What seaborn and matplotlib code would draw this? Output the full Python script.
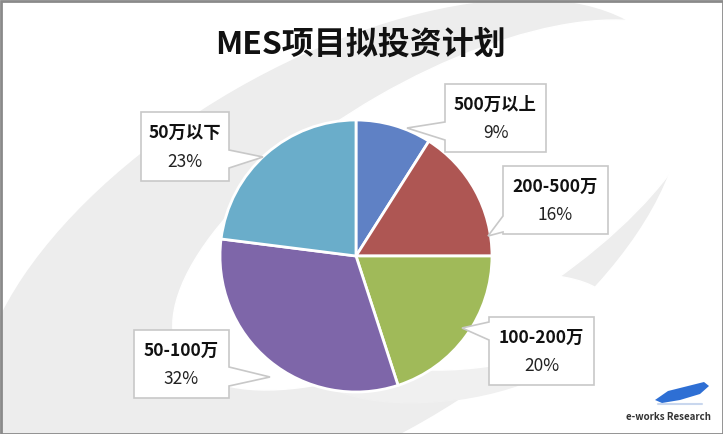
import numpy as np
import seaborn as sns
import matplotlib.pyplot as plt
from matplotlib.patches import Polygon, Ellipse, Rectangle

# chart data
categories = ['500万以上', '200-500万', '100-200万', '50-100万', '50万以下']
shares = [9, 16, 20, 32, 23]
pct_labels = ['9%', '16%', '20%', '32%', '23%']
slice_colors = ['#5F81C5', '#AE5653', '#A0BA59', '#7E66A9', '#6AADCA']
title = 'MES项目拟投资计划'

sns.set_theme(style='white')
plt.rcParams['font.family'] = ['Noto Sans CJK SC', 'DejaVu Sans']

W, H = 723, 434
fig = plt.figure(figsize=(W / 100, H / 100), dpi=100)
ax = fig.add_axes([0, 0, 1, 1])


def Y(py):
    # pixel row (top-down) -> axis y
    return H - py


# soft background swirl
ax.add_patch(Ellipse((330, Y(255)), 780, 380, angle=30, color='#EDEDED', zorder=0))
ax.add_patch(Ellipse((440, Y(205)), 600, 250, angle=30, color='white', zorder=0))
ax.add_patch(Ellipse((450, Y(345)), 280, 110, angle=8, color='#F0F0F0', zorder=0))
ax.add_patch(Ellipse((480, Y(322)), 260, 90, angle=8, color='white', zorder=0))

# pie
ax.pie(shares, colors=slice_colors, startangle=90, counterclock=False,
       center=(356, Y(256)), radius=136,
       wedgeprops=dict(edgecolor='white', linewidth=2), frame=True)
ax.set_xlim(0, W)
ax.set_ylim(0, H)
ax.set_aspect('equal')
ax.axis('off')

# callout boxes: (x0, y0, x1, y1), side of pointer, base (a, b), tip
callouts = [
    ((445, 84, 546, 152), 'left', (122, 140), (407, 128)),
    ((503, 166, 608, 234), 'left', (216, 232), (488, 236)),
    ((489, 317, 594, 385), 'left', (322, 340), (462, 328)),
    ((134, 330, 229, 398), 'right', (367, 386), (270, 377)),
    ((141, 112, 229, 181), 'right', (150, 168), (263, 157)),
]

for (box, side, base, tip), cat, pct in zip(callouts, categories, pct_labels):
    x0, y0, x1, y1 = box
    a, b = base
    if side == 'left':
        pts = [(x0, y0), (x1, y0), (x1, y1), (x0, y1), (x0, b), tip, (x0, a)]
    else:
        pts = [(x0, y0), (x1, y0), (x1, a), tip, (x1, b), (x1, y1), (x0, y1)]
    pts = [(px, Y(py)) for px, py in pts]
    ax.add_patch(Polygon(pts, closed=True, facecolor='white',
                         edgecolor='#C8C8C8', linewidth=1.2, zorder=5))
    cx = (x0 + x1) / 2
    hgt = y1 - y0
    ax.text(cx, Y(y0 + 0.30 * hgt), cat, ha='center', va='center',
            fontsize=12.5, fontweight='bold', color='#111111', zorder=6)
    ax.text(cx, Y(y0 + 0.72 * hgt), pct, ha='center', va='center',
            fontsize=12.5, color='#222222', zorder=6)

# title
ax.text(360, Y(45), title, ha='center', va='center', fontsize=23,
        fontweight='bold', color='#111111')

# logo
pen = [(655, Y(400)), (668, Y(391)), (688, Y(386)), (704, Y(382)),
       (709, Y(386)), (700, Y(394)), (680, Y(400)), (662, Y(403))]
ax.add_patch(Polygon(pen, closed=True, facecolor='#2E6FD4', edgecolor='none', zorder=3))
ax.plot([658, 702], [Y(404), Y(404)], color='#C9D7EE', lw=1.5, zorder=2)
ax.text(668, Y(417), 'e-works Research', ha='center', va='center',
        fontsize=7, color='#333333', fontweight='bold', zorder=3)

# outer frame
ax.add_patch(Rectangle((0.5, 0.5), W - 1, H - 1, fill=False,
                       edgecolor='#8A8A8A', linewidth=2, zorder=10))

fig.savefig('out.png', dpi=100)
